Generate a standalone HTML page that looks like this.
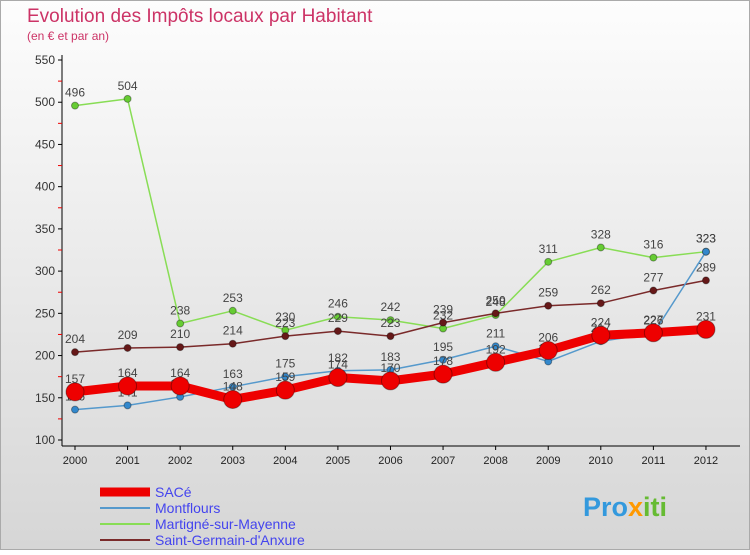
<!DOCTYPE html>
<html><head><meta charset="utf-8"><style>
body{margin:0;width:750px;height:550px;overflow:hidden;font-family:"Liberation Sans",sans-serif}
svg text{font-family:"Liberation Sans",sans-serif}
</style></head><body>
<svg id="c" width="750" height="550">
<defs><linearGradient id="bg" x1="0" y1="0" x2="0" y2="1"><stop offset="0" stop-color="#fdfdfd"/><stop offset="1" stop-color="#d6d6d6"/></linearGradient></defs>
<rect x="0.5" y="0.5" width="749" height="549" fill="url(#bg)" stroke="#aaa"/>
<text x="27" y="22" font-size="19" fill="#cc3366">Evolution des Impôts locaux par Habitant</text>
<text x="27" y="40" font-size="12" fill="#cc3366">(en € et par an)</text>
<g id="axes"></g><g id="series"></g><g id="legend"></g>
<text x="583" y="516" font-size="27" font-weight="bold" fill="#3399dd">Pro<tspan fill="#ff9900">x</tspan><tspan fill="#66bb33">iti</tspan></text>
</svg>
<script>
const years=["2000","2001","2002","2003","2004","2005","2006","2007","2008","2009","2010","2011","2012"];
const yTicks=[100,150,200,250,300,350,400,450,500,550];
const seriesNames=["SACé","Montflours","Martigné-sur-Mayenne","Saint-Germain-d'Anxure"];
const sace=[157,164,164,148,159,174,170,178,192,206,224,227,231];
const montflours=[136,141,151,163,175,182,183,195,211,193,217,226,323];
const martigne=[496,504,238,253,230,246,242,232,248,311,328,316,323];
const stgermain=[204,209,210,214,223,229,223,239,250,259,262,277,289];
const NS="http://www.w3.org/2000/svg";
const x=i=>75+i*52.58, y=v=>440-(v-100)*380/450;
function el(t,a,p){const e=document.createElementNS(NS,t);for(const k in a)e.setAttribute(k,a[k]);p.appendChild(e);return e;}
const ax=document.getElementById('axes');
const yl=el('line',{x1:62,y1:55,x2:62,y2:446,stroke:'#000'},ax);


const xl=el('line',{x1:62,y1:446,x2:740,y2:446,stroke:'#000'},ax);


yTicks.forEach(v=>{
 el('line',{x1:58,y1:y(v),x2:62,y2:y(v),stroke:'#000'},ax);
 if(v<550)el('line',{x1:58,y1:y(v+25),x2:62,y2:y(v+25),stroke:'#e00'},ax);
 const t=el('text',{x:55,y:y(v)+4,'font-size':12,'text-anchor':'end',fill:'#333'},ax);t.textContent=v;
 
 
});
years.forEach((yr,i)=>{
 el('line',{x1:x(i),y1:446,x2:x(i),y2:450,stroke:'#000'},ax);
 const t=el('text',{x:x(i),y:464,'font-size':11,'text-anchor':'middle',fill:'#222'},ax);t.textContent=yr;
 
 
});
const sg=document.getElementById('series');
const defs=[[martigne,'#88dd55','#66cc33',1.5,3.5,'martigne'],[stgermain,'#7a2a2a','#661818',1.5,3.5,'saint-germain'],[montflours,'#5599cc','#3388cc',1.5,3.5,'montflours'],[sace,'#ee0000','#ee0000',9,9,'sace']];
defs.forEach(([d,lc,pc,w,r,n])=>{
 const g=el('g',{},sg);
 
 
 const p=el('polyline',{points:d.map((v,i)=>x(i)+','+y(v)).join(' '),fill:'none',stroke:lc,'stroke-width':w,'stroke-linejoin':'round'},g);
 
 
 d.forEach((v,i)=>{
  const c=el('circle',{cx:x(i),cy:y(v),r:r,fill:pc,stroke:'rgba(0,0,0,0.35)','stroke-width':1},g);
  
  
  const t=el('text',{x:x(i),y:y(v)-9,'font-size':12,'text-anchor':'middle',fill:'#444'},g);t.textContent=v;
  
  
 });
});
const lg=document.getElementById('legend');
const lcols=['#ee0000','#5599cc','#88dd55','#7a2a2a'],lw=[9,2,2,2];
seriesNames.forEach((s,i)=>{
 const yy=492+i*16;
 const g=el('g',{},lg);
 
 
 el('line',{x1:100,y1:yy,x2:150,y2:yy,stroke:lcols[i],'stroke-width':lw[i]},g);
 const t=el('text',{x:155,y:yy+5,'font-size':14,fill:'#4444ee'},g);t.textContent=s;
});
</script>
</body></html>
